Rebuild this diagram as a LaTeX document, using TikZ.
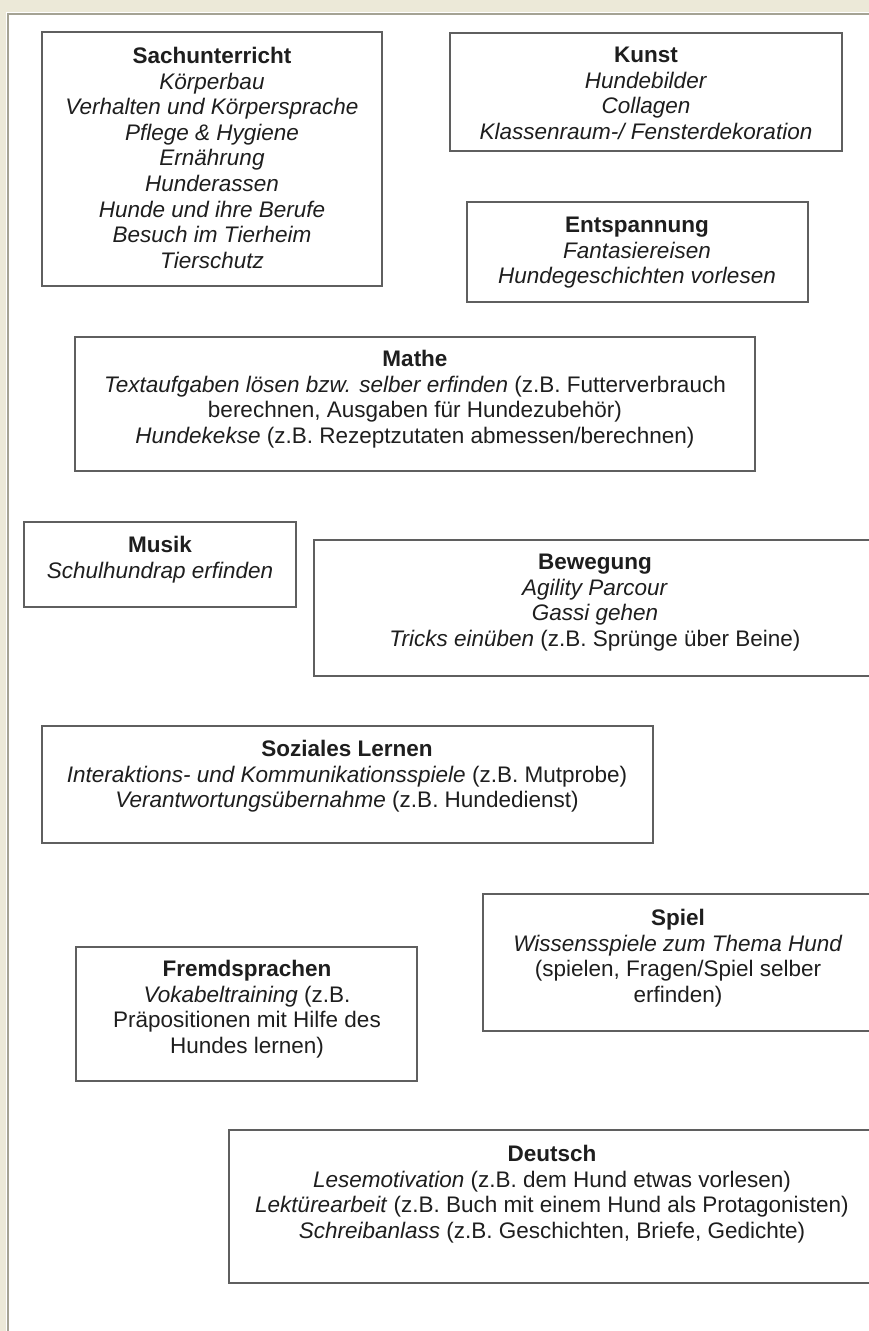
\documentclass[tikz,border=0pt]{standalone}
\usepackage{fontspec}
\setmainfont{Liberation Sans}
\definecolor{framebeige}{RGB}{236,233,216}
\definecolor{frameline}{RGB}{165,163,148}
\definecolor{cardline}{RGB}{95,95,95}
\definecolor{cardtext}{RGB}{30,30,30}
\tikzset{
  card/.style={draw=cardline, line width=1.6pt, inner sep=0, outer sep=0, anchor=north west},
  topic/.style={anchor=north, align=center, inner sep=0, text=cardtext,
                font={\fontsize{22.5pt}{25.6pt}\selectfont}},
}

\begin{document}
\begin{tikzpicture}[x=1pt, y=-1pt]
    % page and window frame
    \useasboundingbox (0,0) rectangle (869,1331);
    \clip (0,0) rectangle (869,1331);
    \fill[white] (0,0) rectangle (869,1331);
    \fill[framebeige] (0,0) rectangle (869,12);
    \fill[framebeige] (0,0) rectangle (6,1331);
    \draw[frameline, line width=2pt] (7.5,1331) -- (7.5,14) -- (869,14);

    % boxes
    \node[card, minimum width=340pt, minimum height=254pt] (sach)    at (42,32)   {};
    \node[card, minimum width=392pt, minimum height=118pt] (kunst)   at (450,33)  {};
    \node[card, minimum width=341pt, minimum height=100pt] (entsp)   at (467,202) {};
    \node[card, minimum width=680pt, minimum height=134pt] (mathe)   at (75,337)  {};
    \node[card, minimum width=272pt, minimum height=85pt]  (musik)   at (24,522)  {};
    \node[card, minimum width=562pt, minimum height=136pt] (beweg)   at (314,540) {};
    \node[card, minimum width=611pt, minimum height=117pt] (sozial)  at (42,726)  {};
    \node[card, minimum width=392pt, minimum height=137pt] (spiel)   at (483,894) {};
    \node[card, minimum width=341pt, minimum height=134pt] (fremd)   at (76,947)  {};
    \node[card, minimum width=646pt, minimum height=153pt] (deutsch) at (229,1130) {};

    % texts
    \node[topic] (sachText) at (212,47) {\textbf{Sachunterricht}\\ \textit{Körperbau}\\
        \textit{Verhalten und Körpersprache}\\ \textit{Pflege \& Hygiene}\\ \textit{Ernährung}\\
        \textit{Hunderassen}\\ \textit{Hunde und ihre Berufe}\\ \textit{Besuch im Tierheim}\\
        \textit{Tierschutz}};
    \node[topic] (kunstText) at (646,47) {\textbf{Kunst}\\ \textit{Hundebilder}\\ \textit{Collagen}\\
        \textit{Klassenraum-/ Fensterdekoration}};
    \node[topic] (entspText) at (637,217) {\textbf{Entspannung}\\ \textit{Fantasiereisen}\\
        \textit{Hundegeschichten vorlesen}};
    \node[topic] (matheText) at (415,350) {\textbf{Mathe}\\
        \textit{Textaufgaben lösen bzw. selber erfinden} (z.B. Futterverbrauch\\
        berechnen, Ausgaben für Hundezubehör)\\
        \textit{Hundekekse} (z.B. Rezeptzutaten abmessen/berechnen)};
    \node[topic] (musikText) at (160,536) {\textbf{Musik}\\ \textit{Schulhundrap erfinden}};
    \node[topic] (bewegText) at (595,554) {\textbf{Bewegung}\\ \textit{Agility Parcour}\\
        \textit{Gassi gehen}\\ \textit{Tricks einüben} (z.B. Sprünge über Beine)};
    \node[topic] (sozialText) at (347,740) {\textbf{Soziales Lernen}\\
        \textit{Interaktions- und Kommunikationsspiele} (z.B. Mutprobe)\\
        \textit{Verantwortungsübernahme} (z.B. Hundedienst)};
    \node[topic] (spielText) at (678,909) {\textbf{Spiel}\\ \textit{Wissensspiele zum Thema Hund}\\
        (spielen, Fragen/Spiel selber\\ erfinden)};
    \node[topic] (fremdText) at (247,960) {\textbf{Fremdsprachen}\\ \textit{Vokabeltraining} (z.B.\\
        Präpositionen mit Hilfe des\\ Hundes lernen)};
    \node[topic] (deutschText) at (552,1145) {\textbf{Deutsch}\\
        \textit{Lesemotivation} (z.B. dem Hund etwas vorlesen)\\
        \textit{Lektürearbeit} (z.B. Buch mit einem Hund als Protagonisten)\\
        \textit{Schreibanlass} (z.B. Geschichten, Briefe, Gedichte)};
\end{tikzpicture}
\end{document}
